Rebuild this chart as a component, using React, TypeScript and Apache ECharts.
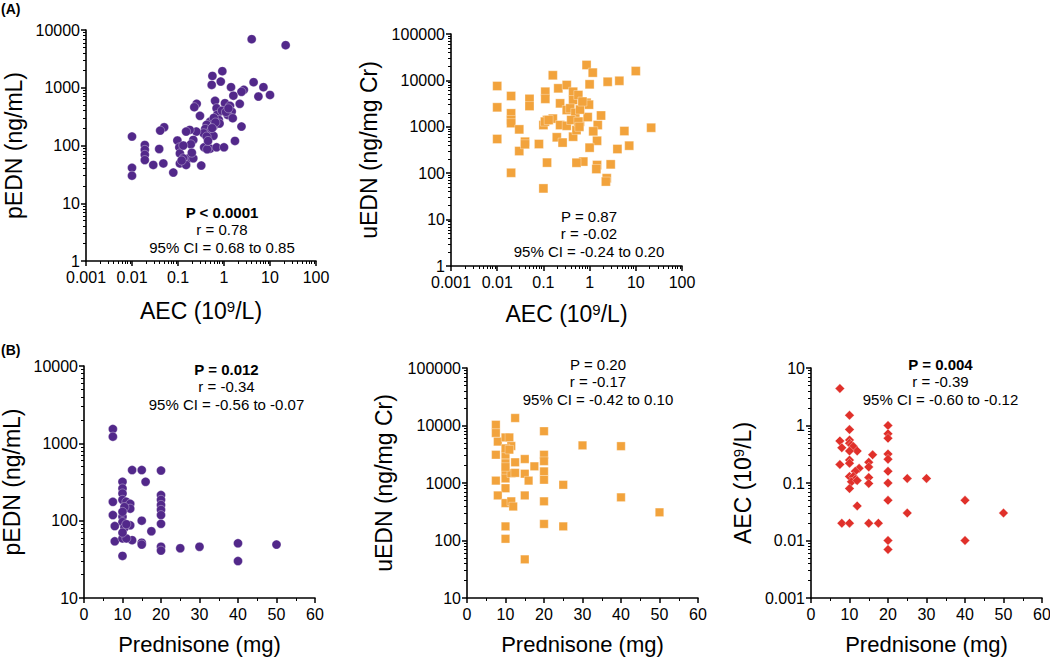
import React, { useEffect, useRef } from "react";
import * as echarts from "echarts";

// ---------- data ----------
// Panel A left: AEC (10^9/L) vs pEDN (ng/mL)
const aecVsPedn: [number, number][] = [
  [4.0, 6950], [21.9, 5470], [0.92, 1940], [0.56, 1600], [0.85, 1280], [0.54, 1120],
  [1.42, 1025], [4.4, 1250], [7.2, 1025], [2.7, 920], [2.4, 850], [5.6, 705], [10, 750],
  [1.6, 730], [2.2, 527], [0.255, 527], [0.226, 461], [0.64, 593], [0.69, 443], [1.05, 541],
  [1.35, 486], [1.47, 387], [1.2, 339], [1.55, 297], [0.3, 326], [0.71, 339], [0.5, 260],
  [0.42, 228], [0.59, 213], [0.39, 194], [2.4, 213], [0.5, 174], [0.36, 163], [0.25, 174],
  [0.18, 186], [0.15, 174], [0.59, 147], [0.42, 143], [0.215, 125], [1.73, 120], [0.097, 122],
  [0.19, 105], [0.107, 93], [0.37, 93], [0.5, 88], [0.69, 93], [1.0, 93], [0.43, 86],
  [0.11, 73], [0.17, 60], [0.215, 60], [0.13, 60], [0.11, 49], [0.15, 46], [0.079, 34],
  [0.32, 45], [0.05, 207], [0.041, 181], [0.039, 87], [0.01, 143], [0.01, 41], [0.01, 30],
  [0.019, 102], [0.019, 84], [0.019, 69], [0.019, 56], [0.029, 46], [0.048, 49], [0.77, 278],
  [0.9, 400], [1.1, 380], [0.8, 240], [0.6, 300], [0.65, 250], [0.13, 100], [0.2, 75],
  [0.12, 55], [0.45, 120], [0.55, 200], [1.25, 440]
];

// Panel A right: AEC (10^9/L) vs uEDN (ng/mg Cr)
const aecVsUedn: [number, number][] = [
  [0.01, 7570], [0.01, 2630], [0.01, 546], [0.02, 4610], [0.02, 1950], [0.02, 1400],
  [0.02, 1200], [0.03, 880], [0.02, 102], [0.05, 4000], [0.05, 2800], [0.04, 477],
  [0.03, 300], [0.04, 420], [0.08, 425], [0.1, 47], [0.12, 169], [0.1, 1090], [0.11, 5700],
  [0.11, 4000], [0.16, 12900], [0.12, 1400], [0.16, 1500], [0.21, 6750], [0.195, 594],
  [0.26, 457], [0.23, 3200], [0.23, 1090], [0.32, 7950], [0.32, 1050], [0.32, 2300],
  [0.44, 5700], [0.44, 3780], [0.57, 4840], [0.44, 612], [0.52, 850], [0.62, 1290],
  [0.86, 3300], [0.97, 3000], [0.86, 21500], [1.17, 14700], [1.0, 8230], [1.77, 1750],
  [1.5, 1090], [1.45, 500], [1.0, 355], [2.46, 9340], [4.4, 9800], [10, 15900], [21.5, 955],
  [5.65, 810], [7.2, 392], [4.0, 332], [2.86, 155], [2.35, 78], [2.25, 66], [1.45, 150],
  [1.4, 123], [0.73, 178], [0.52, 168], [0.91, 1620], [0.38, 2500], [0.49, 2000],
  [0.62, 2350], [0.4, 1400], [0.57, 1290], [0.7, 3500], [0.108, 1290], [0.13, 1400],
  [1.2, 800], [0.6, 1000]
];

// Panel B left: Prednisone (mg) vs pEDN (ng/mL)
const predVsPedn: [number, number][] = [
  [7.5, 1530], [7.5, 1220], [12.5, 451], [15, 451], [20, 445], [16, 318], [10, 318],
  [10, 261], [10, 225], [7.5, 175], [10, 186], [11, 175], [12, 165], [12, 143], [10.5, 150],
  [7.5, 118], [10, 112], [15, 100], [10, 96], [8, 85], [12, 87], [10.5, 81], [17.5, 73],
  [20, 214], [20, 186], [20, 160], [20, 138], [20, 118], [20, 91], [8, 54], [10, 59],
  [12.5, 56], [11, 59], [15, 52], [15, 49], [20, 46], [20, 41], [25, 44], [30, 46],
  [40, 51], [40, 30], [50, 49], [10, 35], [10, 70], [11, 90], [10, 130]
];

// Panel B middle: Prednisone (mg) vs uEDN (ng/mg Cr)
const predVsUedn: [number, number][] = [
  [12.5, 13500], [7.5, 10300], [7.5, 7400], [8, 5250], [10, 6200], [11, 6200], [11.5, 4400],
  [20, 7950], [30, 4510], [40, 4370], [7.5, 3100], [10, 3100], [10, 4000], [10, 2200],
  [10, 1600], [10, 1200], [12.5, 2290], [15, 2610], [17.5, 1950], [20, 3100], [20, 2400],
  [20, 1590], [20, 1140], [15, 1450], [16, 1100], [11.5, 1480], [12.5, 1500], [7.5, 1100],
  [10, 810], [25, 930], [8, 608], [15, 608], [10, 447], [11.5, 480], [12, 390], [20, 480],
  [40, 563], [50, 309], [10, 176], [20, 194], [25, 176], [10, 107], [15, 47], [10, 1900],
  [11, 3800]
];

// Panel B right: Prednisone (mg) vs AEC (10^9/L)
const predVsAec: [number, number][] = [
  [7.5, 4.4], [10, 1.5], [10, 0.85], [7.5, 0.54], [8, 0.41], [10, 0.56], [10, 0.49],
  [10.5, 0.46], [11, 0.43], [12, 0.36], [20, 1.0], [20, 0.72], [20, 0.6], [20, 0.32],
  [20, 0.26], [20, 0.16], [20, 0.1], [20, 0.05], [7.5, 0.21], [10, 0.25], [10, 0.22],
  [16, 0.31], [15, 0.23], [15, 0.19], [12.5, 0.18], [11.5, 0.16], [10, 0.13], [11, 0.13],
  [11.5, 0.115], [10.5, 0.105], [15, 0.125], [15, 0.098], [10, 0.08], [25, 0.12], [30, 0.12],
  [12, 0.04], [40, 0.05], [25, 0.03], [50, 0.03], [8, 0.02], [10, 0.02], [15, 0.02],
  [17.5, 0.02], [20, 0.01], [20, 0.007], [40, 0.01], [10, 0.36], [12, 0.11]
];

// statistics annotations
const statsA1 = ["P < 0.0001", "r = 0.78", "95% CI = 0.68 to 0.85"];
const statsA2 = ["P = 0.87", "r = -0.02", "95% CI = -0.24 to 0.20"];
const statsB1 = ["P = 0.012", "r = -0.34", "95% CI = -0.56 to -0.07"];
const statsB2 = ["P = 0.20", "r = -0.17", "95% CI = -0.42 to 0.10"];
const statsB3 = ["P = 0.004", "r = -0.39", "95% CI = -0.60 to -0.12"];
const boldP = [true, false, true, false, true];

const PURPLE = "#52288a";
const ORANGE = "#f2a33c";
const RED = "#e0302a";
const FONT = "Arial, 'Liberation Sans', Helvetica, sans-serif";

const grids = [
  { left: 86, top: 30, width: 230, height: 231 },
  { left: 451, top: 34, width: 231, height: 232 },
  { left: 84, top: 366, width: 231, height: 232 },
  { left: 467, top: 368, width: 231, height: 230 },
  { left: 811, top: 368, width: 231, height: 230 },
];

const logFmt = (v: number) => (v >= 1 ? String(Math.round(v)) : String(+v.toPrecision(3)));

const richName = {
  sup: { fontSize: 15, verticalAlign: "top", fontFamily: FONT, color: "#000", padding: [0, 0, 9, 0] },
};

function baseAxis(gridIndex: number) {
  return {
    gridIndex,
    axisLine: { show: true, onZero: false, lineStyle: { color: "#000", width: 1.6 } },
    axisTick: { show: true, inside: false, length: 5, lineStyle: { color: "#000", width: 1.5 } },
    splitLine: { show: false },
    axisLabel: { color: "#000", fontSize: 16, fontFamily: FONT, formatter: logFmt },
    nameLocation: "middle",
    nameMoveOverlap: false,
    nameTextStyle: { color: "#000", fontSize: 23, fontFamily: FONT, rich: richName },
  };
}

function logAxis(gridIndex: number, min: number, max: number, name: string, nameGap: number, isY: boolean) {
  const b: any = baseAxis(gridIndex);
  return {
    ...b,
    type: "log",
    logBase: 10,
    min,
    max,
    name,
    nameGap,
    minorTick: { show: true, splitNumber: 9, length: 3, lineStyle: { color: "#000", width: 1 } },
    axisLabel: { ...b.axisLabel, margin: isY ? 6 : 8 },
  };
}

function linAxis(gridIndex: number, name: string, nameGap: number) {
  const b: any = baseAxis(gridIndex);
  return {
    ...b,
    type: "value",
    min: 0,
    max: 60,
    interval: 10,
    name,
    nameGap,
    nameTextStyle: { ...b.nameTextStyle, fontSize: 22 },
    minorTick: { show: true, splitNumber: 2, length: 3, lineStyle: { color: "#000", width: 1 } },
    axisLabel: { ...b.axisLabel, margin: 8, formatter: (v: number) => String(v) },
  };
}

function statText(lines: string[], cx: number, y0: number, bold: boolean) {
  return lines.map((t, i) => ({
    type: "text",
    x: cx,
    y: y0 + i * 17.8,
    style: {
      text: t,
      fill: "#000",
      font: `${i === 0 && bold ? "bold " : ""}15px ${FONT}`,
      textAlign: "center",
      textVerticalAlign: "middle",
      align: "center",
      verticalAlign: "middle",
    },
  }));
}

function scatter(data: [number, number][], idx: number, symbol: string, color: string, size: number) {
  return {
    type: "scatter",
    xAxisIndex: idx,
    yAxisIndex: idx,
    data,
    symbol,
    symbolSize: size,
    itemStyle: { color, opacity: 1, borderColor: "rgba(255,255,255,0.55)", borderWidth: 0.6 },
    emphasis: { disabled: true },
  };
}

export default function App() {
  const ref = useRef<HTMLDivElement>(null);
  useEffect(() => {
    if (!ref.current) return;
    const chart = echarts.init(ref.current, undefined, { renderer: "svg" });
    const AEC = "AEC (10{sup|9}/L)";
    chart.setOption({
      animation: false,
      textStyle: { fontFamily: FONT },
      grid: grids.map((g) => ({ ...g, containLabel: false, outerBoundsMode: "none" })),
      xAxis: [
        logAxis(0, 0.001, 100, AEC, 38, false),
        logAxis(1, 0.001, 100, AEC, 36, false),
        linAxis(2, "Prednisone (mg)", 35),
        linAxis(3, "Prednisone (mg)", 35),
        linAxis(4, "Prednisone (mg)", 35),
      ],
      yAxis: [
        logAxis(0, 1, 10000, "pEDN (ng/mL)", 61, true),
        logAxis(1, 1, 100000, "uEDN (ng/mg Cr)", 71, true),
        logAxis(2, 10, 10000, "pEDN (ng/mL)", 61, true),
        logAxis(3, 10, 100000, "uEDN (ng/mg Cr)", 72, true),
        logAxis(4, 0.001, 10, AEC, 56, true),
      ],
      series: [
        scatter(aecVsPedn, 0, "circle", PURPLE, 9),
        scatter(aecVsUedn, 1, "rect", ORANGE, 9),
        scatter(predVsPedn, 2, "circle", PURPLE, 9),
        scatter(predVsUedn, 3, "rect", ORANGE, 8.5),
        scatter(predVsAec, 4, "diamond", RED, 9.5),
      ],
      graphic: [
        { type: "text", x: 1, y: 9, style: { text: "(A)", fill: "#000", font: `bold 14px ${FONT}`, textVerticalAlign: "middle", verticalAlign: "middle" } },
        { type: "text", x: 1, y: 350, style: { text: "(B)", fill: "#000", font: `bold 14px ${FONT}`, textVerticalAlign: "middle", verticalAlign: "middle" } },
        ...statText(statsA1, 222, 212, boldP[0]),
        ...statText(statsA2, 589, 216, boldP[1]),
        ...statText(statsB1, 226.5, 369, boldP[2]),
        ...statText(statsB2, 598, 364, boldP[3]),
        ...statText(statsB3, 940.5, 364, boldP[4]),
      ],
    });
    return () => chart.dispose();
  }, []);
  return <div ref={ref} style={{ position: "absolute", left: 0, top: 0, width: 1050, height: 660 }} />;
}
